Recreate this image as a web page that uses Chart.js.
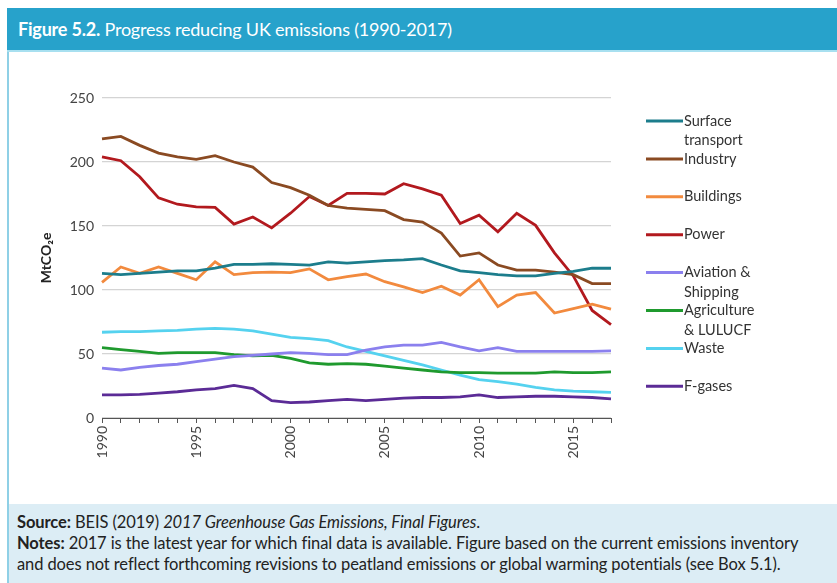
<!DOCTYPE html>
<html>
<head>
<meta charset="utf-8">
<script src="https://cdn.jsdelivr.net/npm/chart.js@4"></script>
<style>
  html, body { margin: 0; padding: 0; background: #fff; }
  body { width: 837px; height: 583px; position: relative; overflow: hidden; font-family: Lato, "Noto Sans", sans-serif; }
  .frame { position: absolute; left: 7px; top: 8px; width: 840px; height: 590px; border-left: 2px solid #8fd0e6; }
  .titlebar { position: absolute; left: 7px; top: 8px; width: 830px; height: 42px; background: #27a2cb; border-bottom: 2px solid #a8e0f0; }
  .titlebar span { position: absolute; left: 11px; top: 10px; color: #fff; font-size: 18px; letter-spacing: -0.2px; }
  .footer { position: absolute; left: 9px; top: 504px; width: 828px; height: 79px; background: #dcedf5; }
  .footer p { margin: 0; position: absolute; left: 8px; font-size: 16.5px; letter-spacing: -0.1px; color: #222; white-space: nowrap; }
  #wrap { position: absolute; left: 0; top: 0; width: 837px; height: 583px; }
</style>
</head>
<body>
<div class="frame"></div>
<div class="titlebar"><span><b>Figure 5.2.</b> Progress reducing UK emissions (1990-2017)</span></div>
<div class="footer">
  <p style="top:8px"><b>Source:</b> BEIS (2019) <i>2017 Greenhouse Gas Emissions, Final Figures</i>.</p>
  <p style="top:29px"><b>Notes:</b> 2017 is the latest year for which final data is available. Figure based on the current emissions inventory</p>
  <p style="top:50px">and does not reflect forthcoming revisions to peatland emissions or global warming potentials (see Box 5.1).</p>
</div>
<div id="wrap"><canvas id="emissionsChart"></canvas></div>
<script>
// Data (MtCO2e)
const years = [1990, 1991, 1992, 1993, 1994, 1995, 1996, 1997, 1998, 1999,
               2000, 2001, 2002, 2003, 2004, 2005, 2006, 2007, 2008, 2009,
               2010, 2011, 2012, 2013, 2014, 2015, 2016, 2017];
const surfaceTransport = [113, 112, 113, 114, 115, 115, 117, 120, 120, 120.5,
                          120, 119.5, 122, 121, 122, 123, 123.5, 124.5, 119.5, 115,
                          113.5, 112, 111, 111, 113, 114.5, 117, 117];
const industry = [218, 220, 213, 207, 204, 202, 205, 200, 196, 184,
                  180, 174, 166, 164, 163, 162, 155, 153, 144.5, 126.5,
                  129, 119.5, 115.5, 115.5, 114, 112, 105, 105];
const buildings = [106, 118, 113, 118, 113, 108, 122, 112, 113.5, 114,
                   113.5, 116.5, 108, 110.5, 112.5, 106.5, 102.5, 98, 103, 96,
                   108, 87, 96, 98, 82, 85.5, 89, 85];
const power = [204, 201, 188.5, 172, 167, 165, 164.5, 151.5, 157, 148.5,
               160, 173, 166, 175.5, 175.5, 175, 183, 179, 174, 152,
               158.5, 145.5, 160, 150.5, 129, 111, 84, 73];
const aviationShipping = [39, 37.5, 39.5, 41, 42, 44, 46, 48, 49, 50,
                          51, 50.5, 49.5, 49.5, 53, 55.5, 57, 57, 59, 55.5,
                          52.5, 55, 52, 52, 52, 52, 52, 52.5];
const agriculture = [55, 53.5, 52, 50.5, 51, 51, 51, 49.5, 48.5, 49,
                     46.5, 43, 42, 42.5, 42, 40.5, 39, 37.5, 36, 35.5,
                     35.5, 35, 35, 35, 36, 35.5, 35.5, 36];
const waste = [67, 67.5, 67.5, 68, 68.5, 69.5, 70, 69.5, 68, 65.5,
               63, 62, 60.5, 55.5, 52, 48.5, 45, 41.5, 37.5, 33.5,
               30, 28.5, 26.5, 24, 22, 21, 20.5, 20];
const fGases = [18, 18, 18.5, 19.5, 20.5, 22, 23, 25.5, 23, 13.5,
                12, 12.5, 13.5, 14.5, 13.5, 14.5, 15.5, 16, 16, 16.5,
                18, 16, 16.5, 17, 17, 16.5, 16, 15];
const yTicks = [0, 50, 100, 150, 200, 250];

const seriesNames = [['Surface', 'transport'], ['Industry'], ['Buildings'], ['Power'],
                     ['Aviation &', 'Shipping'], ['Agriculture', '& LULUCF'], ['Waste'], ['F-gases']];
const seriesData = [surfaceTransport, industry, buildings, power, aviationShipping, agriculture, waste, fGases];
const seriesColors = ['#1c7d8c', '#8a4a22', '#f28a3e', '#b2191e', '#8b80ee', '#1f9a2e', '#55d2ef', '#5b2b96'];

const FONT = 'Lato, "Noto Sans", sans-serif';

// legend drawn to the right of the plot, one entry per series
const sideLegend = {
    id: 'sideLegend',
    afterDraw(chart) {
        const ctx = chart.ctx;
        ctx.save();
        ctx.font = '14.5px ' + FONT;
        ctx.textBaseline = 'middle';
        chart.data.datasets.forEach((ds, i) => {
            const y = 121 + i * 37.9;
            ctx.strokeStyle = ds.borderColor;
            ctx.lineWidth = 3;
            ctx.beginPath();
            ctx.moveTo(646, y);
            ctx.lineTo(683, y);
            ctx.stroke();
            ctx.fillStyle = '#333';
            seriesNames[i].forEach((t, j) => ctx.fillText(t, 684, y + j * 19.5));
        });
        ctx.restore();
    }
};

const datasets = seriesData.map((d, i) => ({
    label: seriesNames[i].join(' '),
    data: d,
    borderColor: seriesColors[i],
    backgroundColor: seriesColors[i],
    borderWidth: 2.8,
    pointRadius: 0,
    tension: 0,
    fill: false
}));

new Chart(document.getElementById('emissionsChart'), {
    type: 'line',
    data: { labels: years, datasets: datasets },
    options: {
        responsive: true,
        maintainAspectRatio: false,
        animation: false,
        layout: { padding: { left: 30, top: 98, right: 226, bottom: 100 } },
        plugins: { legend: { display: false }, tooltip: { enabled: false } },
        scales: {
            x: {
                type: 'category',
                offset: false,
                afterFit: (scale) => { scale.height = 65; },
                grid: { drawOnChartArea: false, drawTicks: true, tickLength: 5, color: '#555', lineWidth: 1 },
                border: { display: true, color: '#555', width: 1 },
                ticks: {
                    autoSkip: false,
                    maxRotation: 90,
                    minRotation: 90,
                    padding: 3,
                    color: '#444',
                    font: { family: FONT, size: 14 },
                    callback: function (value, index) {
                        const y = years[index];
                        return y % 5 === 0 ? String(y) : '';
                    }
                }
            },
            y: {
                min: 0,
                max: 250,
                afterFit: (scale) => { scale.width = 72; },
                afterBuildTicks: (scale) => { scale.ticks = yTicks.map(v => ({ value: v })); },
                grid: { color: '#d4d4d4', lineWidth: 1.2, drawTicks: false },
                border: { display: false },
                ticks: { padding: 8, color: '#444', font: { family: FONT, size: 14 } },
                title: {
                    display: true,
                    text: 'MtCO\u2082e',
                    color: '#222',
                    font: { family: FONT, size: 14, weight: 'bold' },
                    padding: { top: 8, bottom: 0 }
                }
            }
        }
    },
    plugins: [sideLegend]
});
</script>
</body>
</html>
